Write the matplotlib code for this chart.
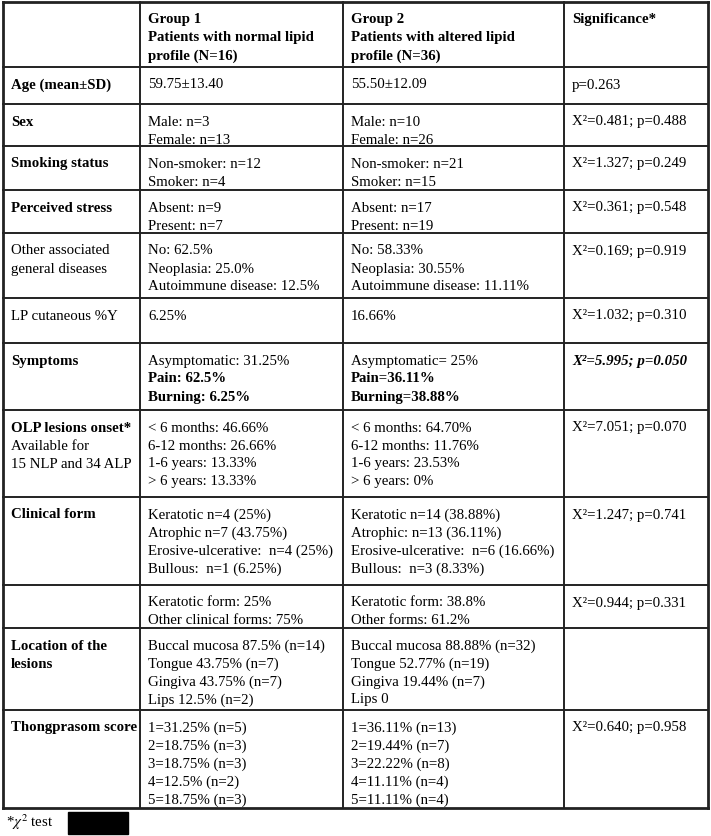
import matplotlib
matplotlib.use("Agg")
import matplotlib.pyplot as plt
from matplotlib.patches import Rectangle

plt.rcParams['font.family'] = ['Liberation Serif', 'DejaVu Serif']
plt.rcParams['mathtext.fontset'] = 'stix'

# table content
header = [
    [],
    ["Group 1", "Patients with normal lipid", "profile (N=16)"],
    ["Group 2", "Patients with altered lipid", "profile (N=36)"],
    ["Significance*"],
]

row_labels = [
    ["Age (mean±SD)"],
    ["Sex"],
    ["Smoking status"],
    ["Perceived stress"],
    ["Other associated", "general diseases"],
    ["LP cutaneous %Y"],
    ["Symptoms"],
    ["OLP lesions onset*", "Available for", "15 NLP and 34 ALP"],
    ["Clinical form"],
    [],
    ["Location of the", "lesions"],
    ["Thongprasom score"],
]

group1 = [
    ["59.75±13.40"],
    ["Male: n=3", "Female: n=13"],
    ["Non-smoker: n=12", "Smoker: n=4"],
    ["Absent: n=9", "Present: n=7"],
    ["No: 62.5%", "Neoplasia: 25.0%", "Autoimmune disease: 12.5%"],
    ["6.25%"],
    ["Asymptomatic: 31.25%", "Pain: 62.5%", "Burning: 6.25%"],
    ["< 6 months: 46.66%", "6-12 months: 26.66%", "1-6 years: 13.33%", "> 6 years: 13.33%"],
    ["Keratotic n=4 (25%)", "Atrophic n=7 (43.75%)", "Erosive-ulcerative:  n=4 (25%)", "Bullous:  n=1 (6.25%)"],
    ["Keratotic form: 25%", "Other clinical forms: 75%"],
    ["Buccal mucosa 87.5% (n=14)", "Tongue 43.75% (n=7)", "Gingiva 43.75% (n=7)", "Lips 12.5% (n=2)"],
    ["1=31.25% (n=5)", "2=18.75% (n=3)", "3=18.75% (n=3)", "4=12.5% (n=2)", "5=18.75% (n=3)"],
]

group2 = [
    ["55.50±12.09"],
    ["Male: n=10", "Female: n=26"],
    ["Non-smoker: n=21", "Smoker: n=15"],
    ["Absent: n=17", "Present: n=19"],
    ["No: 58.33%", "Neoplasia: 30.55%", "Autoimmune disease: 11.11%"],
    ["16.66%"],
    ["Asymptomatic= 25%", "Pain=36.11%", "Burning=38.88%"],
    ["< 6 months: 64.70%", "6-12 months: 11.76%", "1-6 years: 23.53%", "> 6 years: 0%"],
    ["Keratotic n=14 (38.88%)", "Atrophic: n=13 (36.11%)", "Erosive-ulcerative:  n=6 (16.66%)", "Bullous:  n=3 (8.33%)"],
    ["Keratotic form: 38.8%", "Other forms: 61.2%"],
    ["Buccal mucosa 88.88% (n=32)", "Tongue 52.77% (n=19)", "Gingiva 19.44% (n=7)", "Lips 0"],
    ["1=36.11% (n=13)", "2=19.44% (n=7)", "3=22.22% (n=8)", "4=11.11% (n=4)", "5=11.11% (n=4)"],
]

significance = [
    ["p=0.263"],
    ["X²=0.481; p=0.488"],
    ["X²=1.327; p=0.249"],
    ["X²=0.361; p=0.548"],
    ["X²=0.169; p=0.919"],
    ["X²=1.032; p=0.310"],
    ["X²=5.995; p=0.050"],
    ["X²=7.051; p=0.070"],
    ["X²=1.247; p=0.741"],
    ["X²=0.944; p=0.331"],
    [],
    ["X²=0.640; p=0.958"],
]

# which label rows are bold (index: lines that are bold)
bold_labels = {0: [0], 1: [0], 2: [0], 3: [0], 6: [0], 7: [0], 8: [0], 10: [0, 1], 11: [0]}
bold_cells = {(1, 6): [1, 2], (2, 6): [1, 2]}
bolditalic_sig = {6}

# layout in pixels
W, H = 711, 836
col_x = [3, 140, 343, 564, 708]
row_y = [2, 67, 104, 146, 190, 233, 298, 343, 410, 497, 585, 628, 710, 808]
pad_x = 8
first_off = 18
line_h = 18
fs = 10.7

fig = plt.figure(figsize=(W / 100, H / 100), dpi=100)
ax = fig.add_axes([0, 0, 1, 1])
ax.set_xlim(0, W)
ax.set_ylim(H, 0)
ax.axis('off')

# grid lines
for i, y in enumerate(row_y):
    lw = 2.0 if i in (0, len(row_y) - 1) else 1.4
    ax.plot([col_x[0], col_x[-1]], [y, y], color='#222222', lw=lw, solid_capstyle='projecting')
for i, x in enumerate(col_x):
    lw = 2.0 if i in (0, len(col_x) - 1) else 1.4
    ax.plot([x, x], [row_y[0], row_y[-1]], color='#222222', lw=lw, solid_capstyle='projecting')


def put_lines(lines, col, top, bold_idx=(), style='normal', weight_all=None):
    for k, s in enumerate(lines):
        w = 'bold' if (k in bold_idx or weight_all == 'bold') else 'normal'
        ax.text(col_x[col] + pad_x, top + first_off + k * line_h, s,
                fontsize=fs, fontweight=w, fontstyle=style,
                ha='left', va='center', color='black')


# header
for c, lines in enumerate(header):
    put_lines(lines, c, row_y[0], weight_all='bold')

# body
for r in range(len(row_labels)):
    top = row_y[r + 1]
    put_lines(row_labels[r], 0, top, bold_idx=bold_labels.get(r, []))
    put_lines(group1[r], 1, top, bold_idx=bold_cells.get((1, r), []))
    put_lines(group2[r], 2, top, bold_idx=bold_cells.get((2, r), []))
    if r in bolditalic_sig:
        put_lines(significance[r], 3, top, style='italic', weight_all='bold')
    else:
        put_lines(significance[r], 3, top)

# footnote
ax.text(6, 822, r"*$\chi^2$ test", fontsize=fs, ha='left', va='center')
ax.add_patch(Rectangle((68, 812), 60, 22, color='black'))

fig.savefig("out.png", dpi=100)
